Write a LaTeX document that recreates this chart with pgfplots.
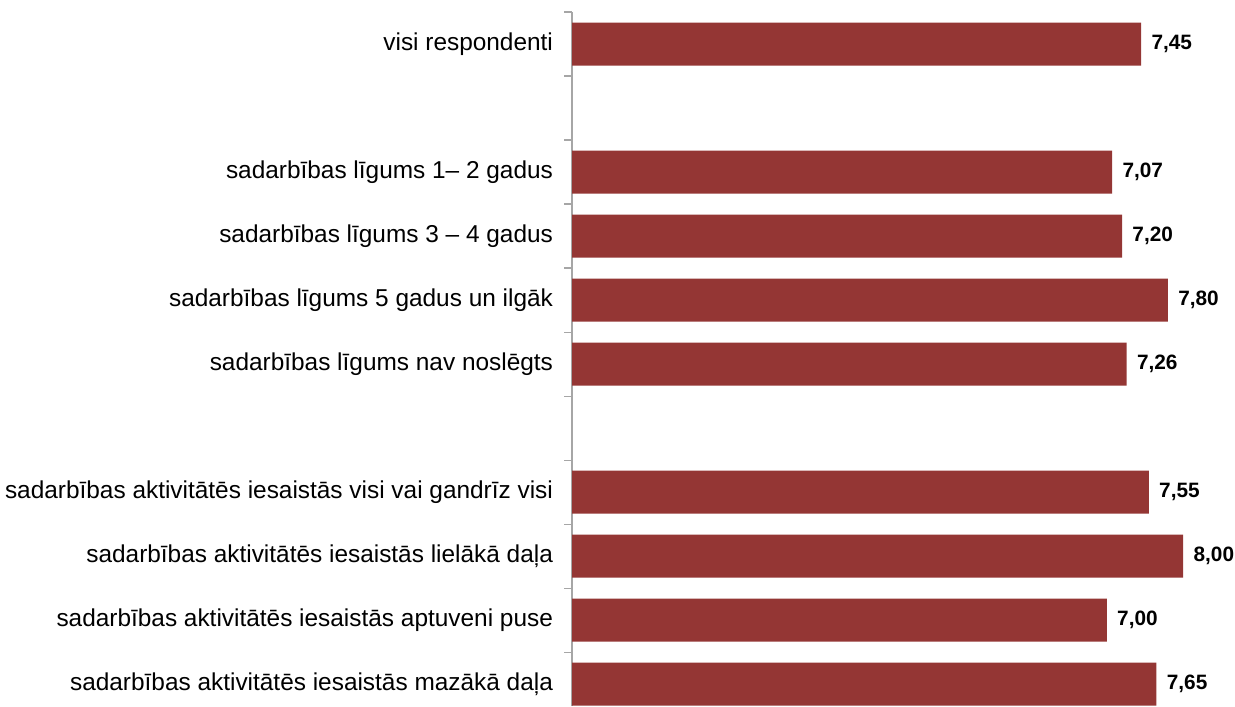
\documentclass[border=0pt]{standalone}
\usepackage{fontspec}
\setmainfont{Liberation Sans}
\usepackage{pgfplots}
\pgfplotsset{compat=1.18}
\definecolor{bardark}{HTML}{943634}
\definecolor{axgray}{HTML}{A6A6A6}
\begin{document}
\begin{tikzpicture}
% 1 px of the reference = 0.5pt
\useasboundingbox (0,0) rectangle (617.5pt,-353pt);
\begin{axis}[
    at={(286pt,-6pt)}, anchor=north west,
    xbar,
    scale only axis,
    width=305.6pt,
    height=347pt,
    xmin=0, xmax=8,
    ymin=-0.5, ymax=10.34,
    y dir=reverse,
    axis x line=none,
    axis y line*=left,
    axis line style={axgray, line width=0.6pt},
    bar width=21.5pt,
    ytick={0,...,10},
    yticklabels={
        visi respondenti,
        {},
        sadarbības līgums 1– 2 gadus,
        sadarbības līgums 3 – 4 gadus,
        sadarbības līgums 5 gadus un ilgāk,
        sadarbības līgums nav noslēgts,
        {},
        sadarbības aktivitātēs iesaistās visi vai gandrīz visi,
        sadarbības aktivitātēs iesaistās lielākā daļa,
        sadarbības aktivitātēs iesaistās aptuveni puse,
        sadarbības aktivitātēs iesaistās mazākā daļa},
    major tick length=0pt,
    minor ytick={-0.5,0.5,...,9.5},
    minor tick length=4pt,
    tick align=outside,
    minor tick style={axgray, line width=0.6pt},
    yticklabel style={font=\fontsize{12.2}{14}\selectfont, xshift=-6pt},
    nodes near coords,
    point meta=x,
    every node near coord/.append style={font=\fontsize{10.4}{12}\bfseries,
        anchor=west, inner sep=0pt, xshift=5pt, black},
    /pgf/number format/.cd, fixed, fixed zerofill, precision=2, use comma,
    assume math mode=true,
]
\addplot[fill=bardark, draw=none] coordinates {
    (7.45,0)
    (7.07,2)
    (7.20,3)
    (7.80,4)
    (7.26,5)
    (7.55,7)
    (8.00,8)
    (7.00,9)
    (7.65,10)
};
\end{axis}
\end{tikzpicture}
\end{document}
